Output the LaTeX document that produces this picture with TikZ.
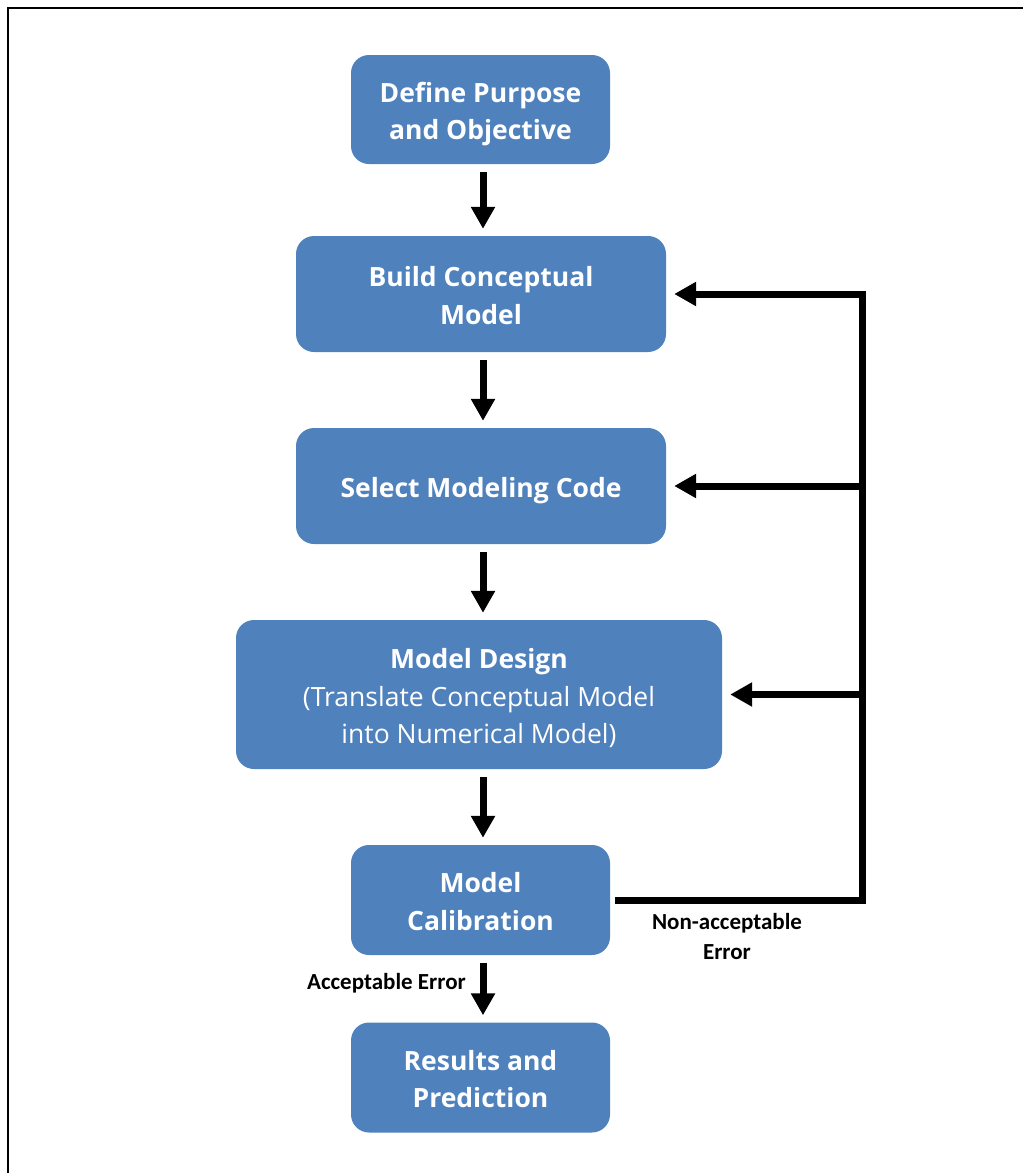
\documentclass[tikz,border=0pt]{standalone}
\usepackage{fontspec}
\setmainfont{Open Sans}
\newfontfamily\lblfont{Carlito}
\usetikzlibrary{arrows.meta}
\definecolor{boxblue}{RGB}{79,129,189}
\newcommand\boxtxt[1]{\raisebox{-4pt}[\height][\depth]{\begin{tabular}{@{}c@{}}#1\end{tabular}}}
\begin{document}
\begin{tikzpicture}[x=1pt,y=-1pt,
  box/.style={fill=boxblue, rounded corners=18pt, text=white,
    font=\bfseries\fontsize{26.5}{37.5}\selectfont, inner sep=0pt},
  flow/.style={line width=7pt, -{Triangle[width=23pt,length=22pt]},
    shorten <=8pt, shorten >=7pt},
  fback/.style={line width=7pt, line join=miter, -{Triangle[width=23pt,length=22pt]},
    shorten >=8pt},
  lbl/.style={font=\lblfont\bfseries\fontsize{23}{30}\selectfont, align=center, inner sep=0pt}]
\useasboundingbox (0,0) rectangle (1023,1173);
\draw[line width=2.2pt] (8,1173) -- (8,8) -- (1023,8);

\node[box, minimum width=259pt, minimum height=109pt] (def) at (480.5,109.5) {\boxtxt{Define Purpose\\and Objective}};
\node[box, minimum width=370pt, minimum height=116pt] (bcm) at (481,294) {\boxtxt{Build Conceptual\\Model}};
\node[box, minimum width=370pt, minimum height=116pt] (smc) at (481,486) {\boxtxt{Select Modeling Code}};
\node[box, minimum width=486pt, minimum height=149pt] (md) at (479,694.5)
  {\boxtxt{Model Design\\\mdseries (Translate Conceptual Model\\\mdseries into Numerical Model)}};
\node[box, minimum width=259pt, minimum height=110pt] (cal) at (480.5,900) {\boxtxt{Model\\Calibration}};
\node[box, minimum width=259pt, minimum height=110pt] (res) at (480.5,1077.5) {\boxtxt{Results and\\Prediction}};

\coordinate (ax) at (483,0);
\draw[flow] (def.south -| ax) -- (bcm.north -| ax);
\draw[flow] (bcm.south -| ax) -- (smc.north -| ax);
\draw[flow] (smc.south -| ax) -- (md.north -| ax);
\draw[flow] (md.south -| ax) -- (cal.north -| ax);
\draw[flow] (cal.south -| ax) -- (res.north -| ax);

\coordinate (bus) at (862,0);
\draw[fback] ([xshift=5pt]cal.east) -| (bcm.east -| bus) -- (bcm.east);
\draw[fback] (smc.east -| bus) -- (smc.east);
\draw[fback] (md.east -| bus) -- (md.east);

\node[lbl] (nonacc) at (727,937) {Non-acceptable\\Error};
\node[lbl, anchor=east] (acc) at (466,983) {Acceptable Error};
\end{tikzpicture}
\end{document}
